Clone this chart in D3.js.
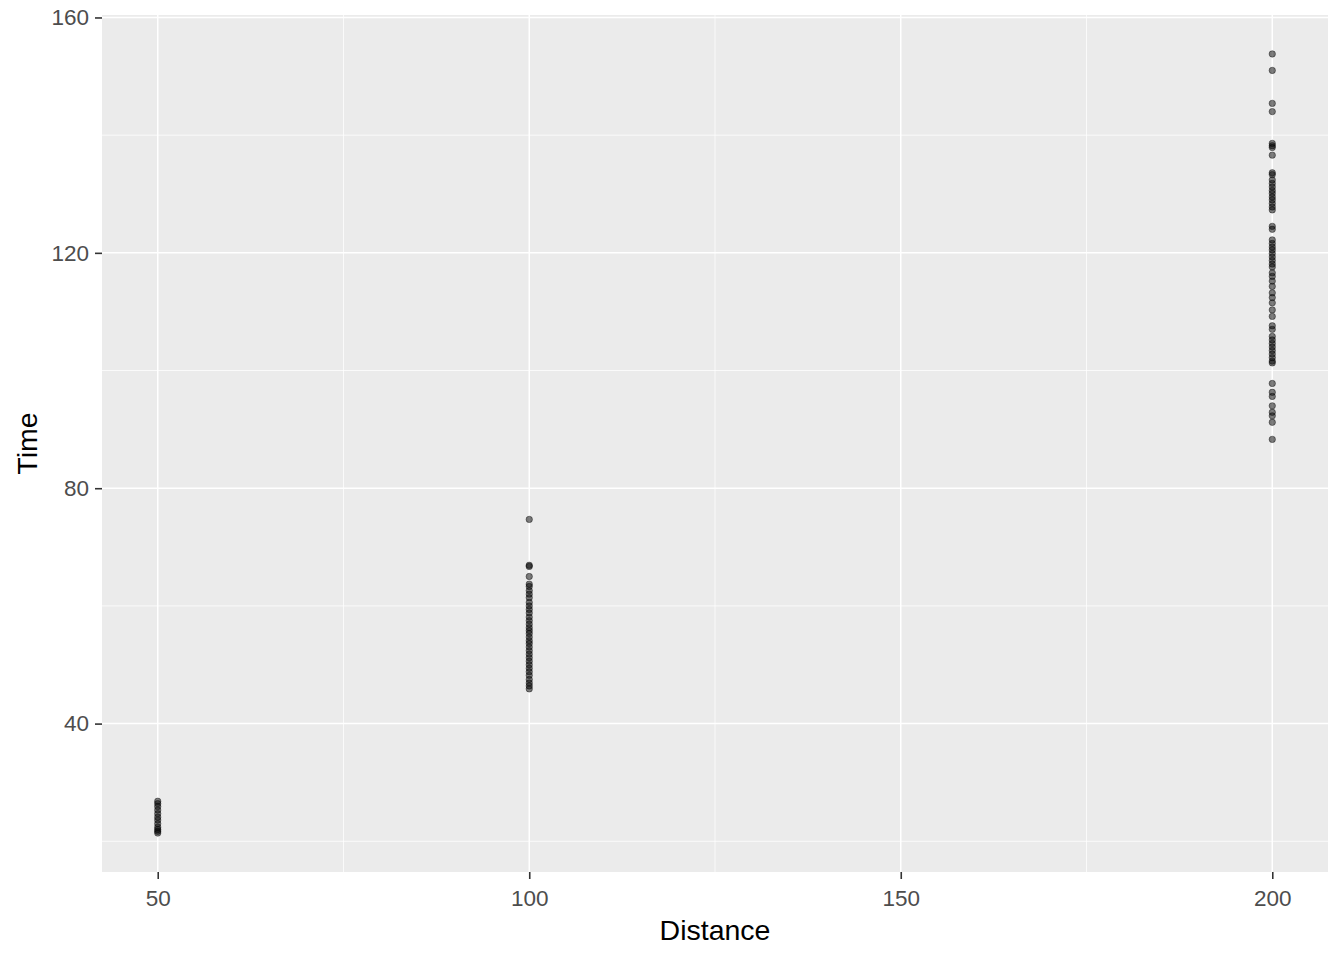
<!DOCTYPE html>
<html>
<head>
<meta charset="utf-8">
<script src="https://cdn.jsdelivr.net/npm/d3@7"></script>
<style>
  html, body { margin: 0; padding: 0; background: #fff; }
  svg { display: block; font-family: "Liberation Sans", Arial, sans-serif; }
</style>
</head>
<body>
<svg id="chart" width="1344" height="960"></svg>
<script>
const xTicks = [50, 100, 150, 200];
const xMinor = [75, 125, 175];
const yTicks = [40, 80, 120, 160];
const yMinor = [20, 60, 100, 140];
const xTitle = "Distance";
const yTitle = "Time";

const times50 = [26.8, 26.4, 25.9, 25.3, 24.7, 24.1, 23.6, 23.0, 22.4, 22.0, 21.7, 21.4];
const times100 = [74.7, 66.9, 66.7, 65.0, 63.7, 63.3, 62.6, 62.0, 61.4, 60.6, 60.0, 59.4, 58.8, 58.1,
  57.5, 56.9, 56.3, 55.8, 55.3, 54.7, 54.1, 53.6, 53.0, 52.4, 51.8, 51.2, 50.6, 50.0, 49.4, 48.8,
  48.2, 47.5, 46.9, 46.4, 45.9];
const times200 = [153.8, 151.0, 145.4, 144.0, 138.6, 138.2, 137.9, 136.6, 133.6, 133.3, 132.4, 131.8,
  131.2, 130.6, 130.1, 129.5, 129.0, 128.4, 127.8, 127.3, 124.5, 124.0, 122.2, 121.6, 121.0, 120.5,
  119.9, 119.3, 118.7, 118.1, 117.6, 116.6, 116.0, 115.2, 114.3, 113.2, 112.4, 111.5, 110.3, 109.2,
  107.6, 107.0, 105.8, 105.2, 104.6, 104.0, 103.4, 102.8, 102.2, 101.6, 101.3, 97.8, 96.3, 95.6,
  94.0, 92.9, 92.3, 91.2, 88.3];

const points = [
  ...times50.map(t => ({d: 50, t})),
  ...times100.map(t => ({d: 100, t})),
  ...times200.map(t => ({d: 200, t}))
];

(function () {
const svg = d3.select("#chart");
const pL = 102, pR = 1328, pT = 15, pB = 872;

const allT = points.map(p => p.t);
const tMin = d3.min(allT), tMax = d3.max(allT);
const tPad = (tMax - tMin) * 0.05;
const x = d3.scaleLinear().domain([42.5, 207.5]).range([pL, pR]);
const y = d3.scaleLinear().domain([tMin - tPad, tMax + tPad]).range([pB, pT]);

svg.append("rect").attr("x", pL).attr("y", pT)
  .attr("width", pR - pL).attr("height", pB - pT).attr("fill", "#EBEBEB");

const g = svg.append("g");
g.selectAll(".xminor").data(xMinor).join("line")
  .attr("x1", d => x(d)).attr("x2", d => x(d)).attr("y1", pT).attr("y2", pB)
  .attr("stroke", "#fff").attr("stroke-width", 0.75);
g.selectAll(".yminor").data(yMinor).join("line")
  .attr("y1", d => y(d)).attr("y2", d => y(d)).attr("x1", pL).attr("x2", pR)
  .attr("stroke", "#fff").attr("stroke-width", 0.75);
g.selectAll(".xmajor").data(xTicks).join("line")
  .attr("x1", d => x(d)).attr("x2", d => x(d)).attr("y1", pT).attr("y2", pB)
  .attr("stroke", "#fff").attr("stroke-width", 1.5);
g.selectAll(".ymajor").data(yTicks).join("line")
  .attr("y1", d => y(d)).attr("y2", d => y(d)).attr("x1", pL).attr("x2", pR)
  .attr("stroke", "#fff").attr("stroke-width", 1.5);

svg.append("g").selectAll("circle").data(points).join("circle")
  .attr("cx", d => x(d.d)).attr("cy", d => y(d.t)).attr("r", 3.2)
  .attr("fill", "#000").attr("fill-opacity", 0.5)
  .attr("stroke", "#000").attr("stroke-opacity", 0.5).attr("stroke-width", 0.8);

const xAxis = svg.append("g").attr("transform", `translate(0,${pB})`)
  .call(d3.axisBottom(x).tickValues(xTicks).tickSize(7).tickPadding(11));
const yAxis = svg.append("g").attr("transform", `translate(${pL},0)`)
  .call(d3.axisLeft(y).tickValues(yTicks).tickSize(7).tickPadding(6));
[xAxis, yAxis].forEach(a => {
  a.select(".domain").remove();
  a.selectAll(".tick line").attr("stroke", "#333").attr("stroke-width", 1.6);
  a.selectAll(".tick text").attr("fill", "#4D4D4D").style("font-size", "22.5px")
    .style("font-family", "Liberation Sans, Arial, sans-serif");
});

svg.append("text").attr("x", (pL + pR) / 2).attr("y", 940)
  .attr("text-anchor", "middle").attr("fill", "#000").style("font-size", "28.5px")
  .text(xTitle);
svg.append("text").attr("transform", `translate(36.5,${(pT + pB) / 2}) rotate(-90)`)
  .attr("text-anchor", "middle").attr("fill", "#000").style("font-size", "28.5px")
  .text(yTitle);
})();
</script>
</body>
</html>
